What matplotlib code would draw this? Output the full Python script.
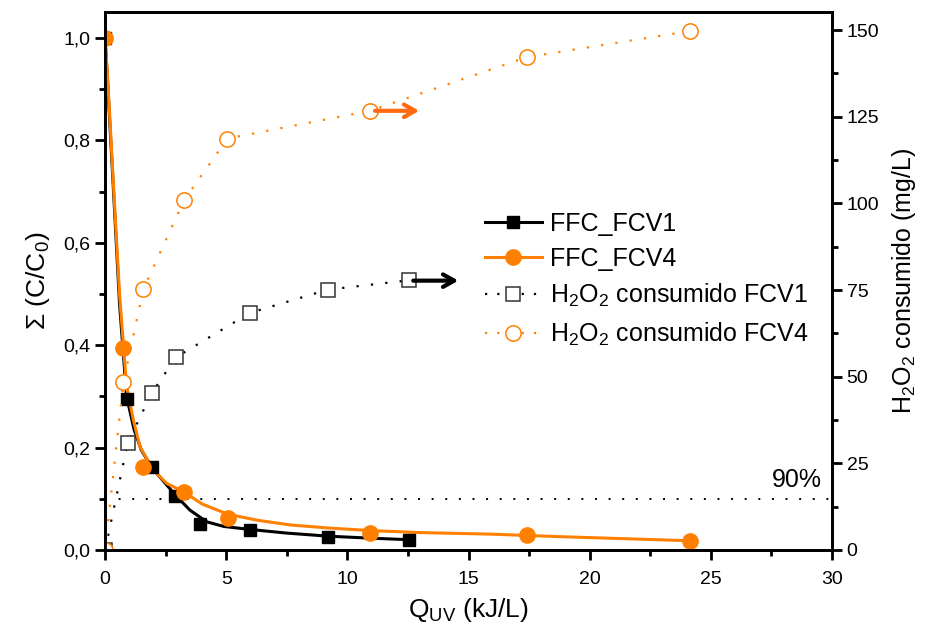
import numpy as np
import matplotlib
matplotlib.use('Agg')
import matplotlib.pyplot as plt
from matplotlib.lines import Line2D
from matplotlib.ticker import MultipleLocator, FuncFormatter

# measured points
q_fcv1 = [0, 0.89, 1.95, 2.89, 3.92, 6.0, 9.22, 12.53]
c_fcv1 = [1.0, 0.295, 0.163, 0.106, 0.050, 0.040, 0.026, 0.020]
q_fcv4 = [0, 0.76, 1.58, 3.27, 5.06, 10.94, 17.42, 24.14]
c_fcv4 = [1.0, 0.395, 0.163, 0.113, 0.063, 0.034, 0.029, 0.018]

# fitted curves
fit1_x = [0, 0.1, 0.34, 0.6, 0.89, 1.2, 1.5, 1.95, 2.4, 2.89, 3.5, 4.2, 4.9, 6.0, 7.5, 9.2, 11.0, 12.6]
fit1_y = [1.0, 0.92, 0.71, 0.48, 0.30, 0.235, 0.195, 0.160, 0.135, 0.108, 0.078, 0.055, 0.046, 0.040, 0.033, 0.027, 0.023, 0.020]
fit4_x = [0, 0.1, 0.34, 0.6, 0.76, 0.89, 1.17, 1.44, 1.99, 2.55, 3.27, 4.0, 5.06, 6.3, 7.63, 9.2, 10.94, 13.0, 15.9, 18.78, 21.5, 24.14]
fit4_y = [1.0, 0.93, 0.72, 0.50, 0.40, 0.32, 0.254, 0.202, 0.156, 0.130, 0.113, 0.090, 0.070, 0.058, 0.049, 0.043, 0.038, 0.034, 0.031, 0.026, 0.022, 0.018]

# H2O2 consumed (right axis)
h_q1 = [0, 0.94, 1.93, 2.93, 5.98, 9.19, 12.53]
h_fcv1 = [0, 31.0, 45.3, 55.6, 68.4, 75.1, 77.8]
h_q4 = [0, 0.76, 1.58, 3.27, 5.05, 10.94, 17.42, 24.14]
h_fcv4 = [0, 48.5, 75.2, 101.0, 118.7, 126.7, 142.2, 149.7]

orange = '#FF8000'
orange_arrow = '#FF6A10'

plt.rcParams['font.family'] = ['Liberation Sans', 'DejaVu Sans']
plt.rcParams['mathtext.default'] = 'regular'

fig = plt.figure(figsize=(9.27, 6.39), dpi=100)
ax = fig.add_axes([0.1133, 0.1393, 0.7842, 0.8419])
ax2 = ax.twinx()

ax.plot(fit1_x, fit1_y, '-', color='black', lw=2.2, zorder=3)
ax.plot(fit4_x, fit4_y, '-', color=orange, lw=2.2, zorder=3)
ax.plot(q_fcv1, c_fcv1, 's', color='black', ms=9, zorder=4)
ax.plot(q_fcv4, c_fcv4, 'o', color=orange, ms=11, zorder=4)
ax.axhline(0.1, color='black', lw=1.4, ls=(0, (1, 6)))
ax.text(29.6, 0.113, '90%', fontsize=18, ha='right', va='bottom')

dots = (0, (1, 5.5))
ax2.plot(h_q1, h_fcv1, 's', color='black', ls=dots, lw=1.6, ms=10,
         mfc='white', mec='#333333', mew=1.1)
ax2.plot(h_q4, h_fcv4, 'o', color=orange, ls=dots, lw=1.6, ms=11,
         mfc='white', mec=orange, mew=1.1)
head = '->,head_length=0.8,head_width=0.45'
ax2.annotate('', xy=(12.97, 126.7), xytext=(11.14, 126.7),
             arrowprops=dict(arrowstyle=head, color=orange_arrow, lw=3,
                             shrinkA=0, shrinkB=0))
ax2.annotate('', xy=(14.58, 77.7), xytext=(12.72, 77.7),
             arrowprops=dict(arrowstyle=head, color='black', lw=3,
                             shrinkA=0, shrinkB=0))

ax.set_xlim(0, 30)
ax.set_ylim(0, 1.051)
ax2.set_ylim(0, 155.2)

ax.xaxis.set_major_locator(MultipleLocator(5))
ax.xaxis.set_minor_locator(MultipleLocator(2.5))
ax.yaxis.set_major_locator(MultipleLocator(0.2))
ax.yaxis.set_minor_locator(MultipleLocator(0.1))
ax.yaxis.set_major_formatter(FuncFormatter(lambda v, p: ('%.1f' % v).replace('.', ',')))
ax2.yaxis.set_major_locator(MultipleLocator(25))
ax2.yaxis.set_minor_locator(MultipleLocator(12.5))

for a in (ax, ax2):
    for s in a.spines.values():
        s.set_linewidth(2)
    a.tick_params(which='major', length=7, width=2, labelsize=14, direction='out')
    a.tick_params(which='minor', length=4.5, width=2, direction='out')
ax.tick_params(axis='x', pad=8)

ax.set_xlabel('Q$_{UV}$ (kJ/L)', fontsize=19, labelpad=6)
ax.set_ylabel('Σ (C/C$_0$)', fontsize=19, labelpad=8)
ax2.set_ylabel('H$_2$O$_2$ consumido (mg/L)', fontsize=18, labelpad=8)

handles = [
    Line2D([], [], color='black', lw=2.2, marker='s', ms=9),
    Line2D([], [], color=orange, lw=2.2, marker='o', ms=11),
    Line2D([], [], color='black', ls=(0, (1, 4.5)), lw=1.6, marker='s', ms=10,
           mfc='white', mec='#333333', mew=1.1),
    Line2D([], [], color=orange, ls=(0, (1, 4.5)), lw=1.6, marker='o', ms=11,
           mfc='white', mec=orange, mew=1.1),
]
labels = ['FFC_FCV1', 'FFC_FCV4', 'H$_2$O$_2$ consumido FCV1', 'H$_2$O$_2$ consumido FCV4']
ax2.legend(handles, labels, loc='upper left', bbox_to_anchor=(472 / 927, 1 - 199 / 639),
           bbox_transform=fig.transFigure, frameon=False, fontsize=18,
           handlelength=2.3, handletextpad=0.3, labelspacing=0.45, borderpad=0)

fig.savefig('out.png', dpi=100)
